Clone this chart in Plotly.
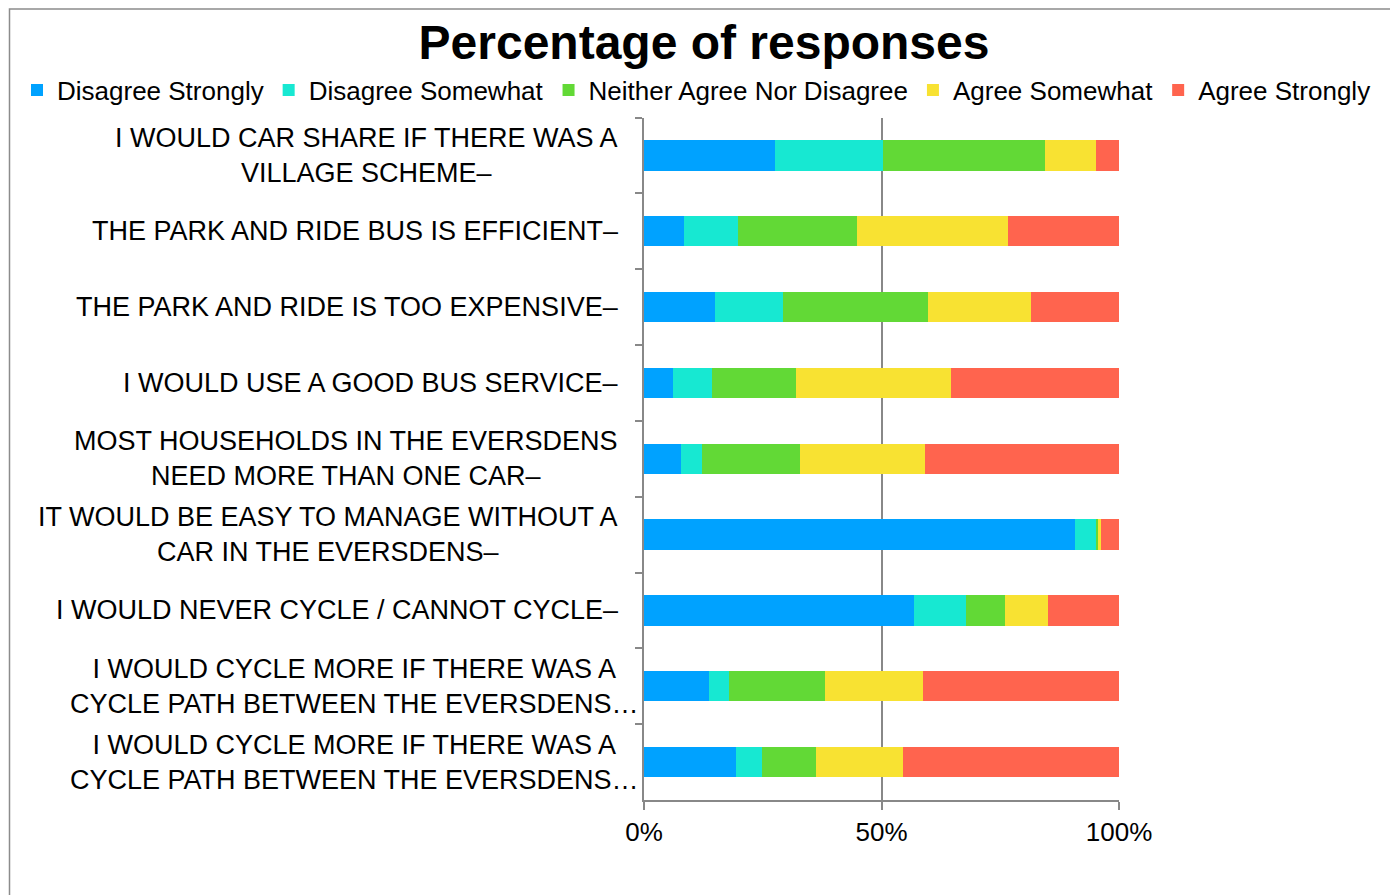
import plotly.graph_objects as go

# statements, top to bottom as in the survey chart
statements = [
    "I WOULD CAR SHARE IF THERE WAS A<br>VILLAGE SCHEME–",
    "THE PARK AND RIDE BUS IS EFFICIENT–",
    "THE PARK AND RIDE IS TOO EXPENSIVE–",
    "I WOULD USE A GOOD BUS SERVICE–",
    "MOST HOUSEHOLDS IN THE EVERSDENS<br>NEED MORE THAN ONE CAR–",
    "IT WOULD BE EASY TO MANAGE WITHOUT A<br>CAR IN THE EVERSDENS–",
    "I WOULD NEVER CYCLE / CANNOT CYCLE–",
    "I WOULD CYCLE MORE IF THERE WAS A<br>CYCLE PATH BETWEEN THE EVERSDENS…",
    "I WOULD CYCLE MORE IF THERE WAS A<br>CYCLE PATH BETWEEN THE EVERSDENS… ",
]

# percentage of responses per answer
disagree_strongly = [27.5, 8.4, 15.0, 6.1, 7.7, 90.7, 56.8, 13.6, 19.3]
disagree_somewhat = [22.9, 11.4, 14.3, 8.3, 4.5, 4.4, 11.0, 4.3, 5.6]
neither = [34.0, 25.0, 30.5, 17.6, 20.7, 0.5, 8.2, 20.2, 11.4]
agree_somewhat = [10.8, 31.8, 21.6, 32.7, 26.3, 0.6, 9.0, 20.7, 18.3]
agree_strongly = [4.8, 23.4, 18.6, 35.3, 40.8, 3.8, 15.0, 41.2, 45.4]

x_ticks = [0, 50, 100]
x_tick_labels = ["0%", "50%", "100%"]

series = [
    ("Disagree Strongly", disagree_strongly, "#00A2FF"),
    ("Disagree Somewhat", disagree_somewhat, "#17E8D2"),
    ("Neither Agree Nor Disagree", neither, "#62D936"),
    ("Agree Somewhat", agree_somewhat, "#F8E232"),
    ("Agree Strongly", agree_strongly, "#FF644E"),
]

W, H = 1390, 895
FONT = "Liberation Sans, Arial, sans-serif"
GREY = "#888888"

fig = go.Figure()
for name, vals, col in series:
    fig.add_trace(go.Bar(y=statements, x=vals, name=name, orientation="h",
                         marker=dict(color=col, line=dict(width=0))))

# category labels centred line-by-line like the original
for s in statements:
    fig.add_annotation(x=0, y=s, xref="x", yref="y", text=s.strip(),
                       showarrow=False, xanchor="right", yanchor="middle",
                       align="center", xshift=-3 if "…" in s else -24,
                       font=dict(family=FONT, size=27, color="#000000"))

# chart frame
fig.add_shape(type="rect", xref="paper", yref="paper",
              x0=9.5 / W, x1=1.02, y0=-0.02, y1=1 - 9 / H,
              line=dict(color="#8C8C8C", width=1.5))

fig.update_layout(
    width=W, height=H,
    barmode="stack", bargap=0.6,
    margin=dict(l=0, r=0, t=0, b=0, autoexpand=False),
    paper_bgcolor="white", plot_bgcolor="white",
    font=dict(family=FONT, size=26, color="#000000"),
    title=dict(text="Percentage of responses", x=704 / W, xanchor="center",
               y=1 - 42 / H, yanchor="middle", xref="container", yref="container",
               font=dict(family=FONT, size=48, weight="bold", color="#000000")),
    legend=dict(orientation="h", x=17 / W, xanchor="left",
                y=1 - 90 / H, yanchor="middle", traceorder="normal",
                font=dict(family=FONT, size=26), bgcolor="rgba(0,0,0,0)"),
    xaxis=dict(domain=[644 / W, 1119 / W], range=[0, 100],
               tickvals=x_ticks, ticktext=x_tick_labels,
               showgrid=True, gridcolor=GREY, gridwidth=1.5,
               showline=True, linecolor=GREY, linewidth=1.5,
               ticks="outside", ticklen=8, tickcolor=GREY, tickwidth=1.5,
               zeroline=False, tickfont=dict(size=26)),
    yaxis=dict(domain=[(H - 800) / H, (H - 117.5) / H],
               autorange="reversed", showticklabels=False,
               showline=True, linecolor=GREY, linewidth=1.5,
               ticks="outside", tickson="boundaries", ticklen=7,
               tickcolor=GREY, tickwidth=1.5, showgrid=False),
)

fig.write_html(
    "out.html",
    config={"responsive": False, "displayModeBar": False},
    post_script="document.body.style.margin='0';document.body.style.overflow='hidden';",
)
